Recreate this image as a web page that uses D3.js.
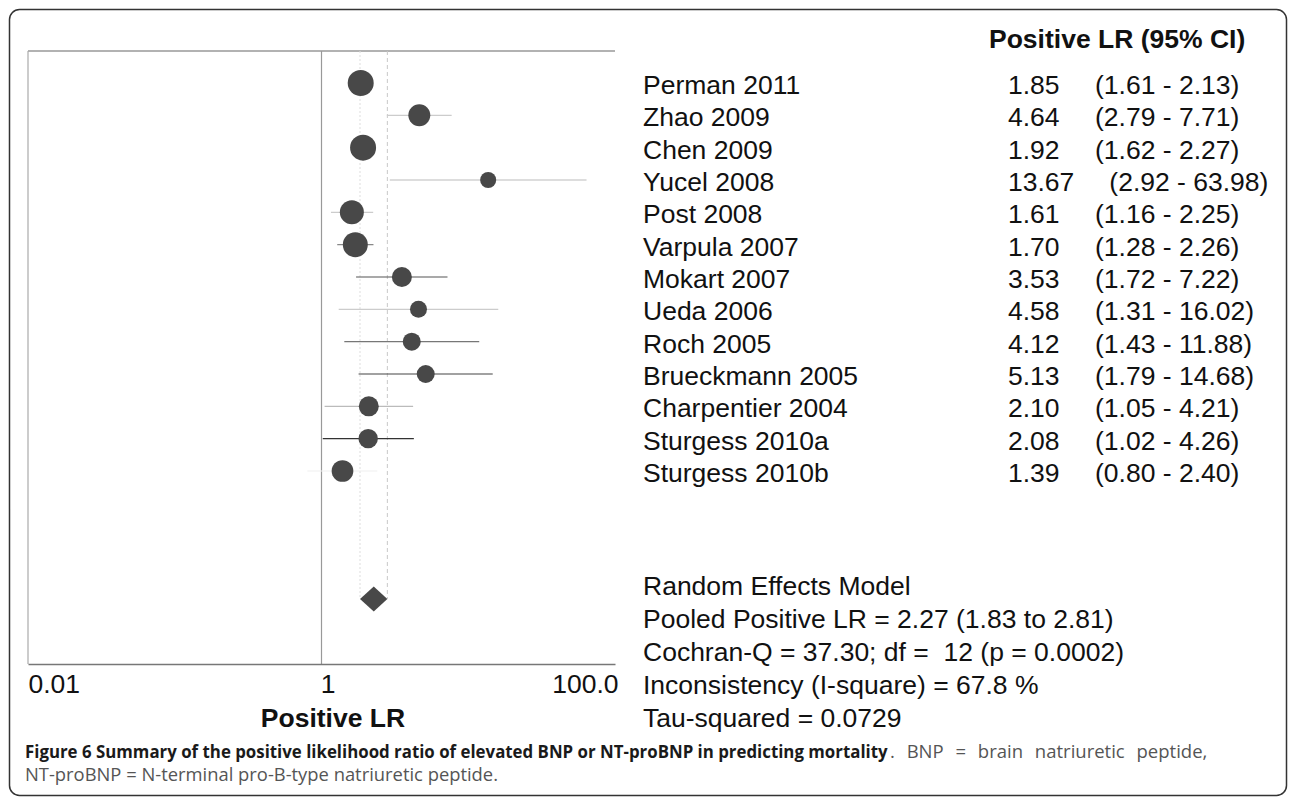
<!DOCTYPE html>
<html>
<head>
<meta charset="utf-8">
<script src="https://cdn.jsdelivr.net/npm/d3@7"></script>
<style>
  body { margin: 0; background: #fff; }
  text { font-family: "Liberation Sans", Arial, sans-serif; }
</style>
</head>
<body>
<div id="chart"></div>
<script>
// study data
const studies = ["Perman 2011", "Zhao 2009", "Chen 2009", "Yucel 2008", "Post 2008", "Varpula 2007",
    "Mokart 2007", "Ueda 2006", "Roch 2005", "Brueckmann 2005", "Charpentier 2004",
    "Sturgess 2010a", "Sturgess 2010b"];
const posLR  = [1.85, 4.64, 1.92, 13.67, 1.61, 1.70, 3.53, 4.58, 4.12, 5.13, 2.10, 2.08, 1.39];
const ciLow  = [1.61, 2.79, 1.62, 2.92, 1.16, 1.28, 1.72, 1.31, 1.43, 1.79, 1.05, 1.02, 0.80];
const ciHigh = [2.13, 7.71, 2.27, 63.98, 2.25, 2.26, 7.22, 16.02, 11.88, 14.68, 4.21, 4.26, 2.40];
// relative study weight (%)
const weights = [11.5, 8.2, 11.5, 4.4, 9.8, 10.6, 6.8, 4.9, 5.5, 5.5, 6.8, 6.4, 8.0];

const pooledLR = 2.27, pooledLow = 1.83, pooledHigh = 2.81;

const tickValues = [0.01, 1, 100];
const tickLabels = ["0.01", "1", "100.0"];

const summaryLines = [
    "Random Effects Model",
    "Pooled Positive LR = 2.27 (1.83 to 2.81)",
    "Cochran-Q = 37.30; df =  12 (p = 0.0002)",
    "Inconsistency (I-square) = 67.8 %",
    "Tau-squared = 0.0729"
];

// grey of each CI line as it shows in the figure
const ciShade = ["#333", "#ccc", "#666", "#bbb", "#ccc", "#888", "#555", "#ccc", "#777", "#444", "#bbb", "#333", "#f0f0f0"];

const width = 1293, height = 800;
const plot = {left: 28, right: 615, top: 51, bottom: 664};
const fontSize = 26.5;
const capFont = "'Open Sans', 'Noto Sans', sans-serif";

const svg = d3.select("#chart").append("svg")
    .attr("width", width)
    .attr("height", height);

// outer frame
svg.append("rect")
    .attr("x", 9.5).attr("y", 9.5)
    .attr("width", 1277).attr("height", 786)
    .attr("rx", 10)
    .attr("fill", "#fff")
    .attr("stroke", "#333")
    .attr("stroke-width", 1.5);

const x = d3.scaleLog()
    .domain([0.01, 100])
    .range([plot.left, plot.right]);

const y = d3.scalePoint()
    .domain(studies)
    .range([83, 471]);

const diamondY = 599;

const r = d3.scaleSqrt()
    .domain([0, d3.max(weights)])
    .range([0, 13]);

const data = studies.map((s, i) => ({
    name: s, lr: posLR[i], lo: ciLow[i], hi: ciHigh[i], w: weights[i], shade: ciShade[i]
}));

// plot box: top and left lines
svg.append("line")
    .attr("x1", plot.left).attr("x2", plot.right)
    .attr("y1", plot.top).attr("y2", plot.top)
    .attr("stroke", "#999").attr("stroke-width", 1.5);
svg.append("line")
    .attr("x1", plot.left).attr("x2", plot.left)
    .attr("y1", plot.top).attr("y2", plot.bottom)
    .attr("stroke", "#aaa").attr("stroke-width", 1.2);

// line of no effect
svg.append("line")
    .attr("x1", x(1)).attr("x2", x(1))
    .attr("y1", plot.top).attr("y2", plot.bottom)
    .attr("stroke", "#999").attr("stroke-width", 1.2);

// pooled CI guides
svg.append("line")
    .attr("x1", x(pooledLow)).attr("x2", x(pooledLow))
    .attr("y1", plot.top).attr("y2", diamondY)
    .attr("stroke", "#ddd").attr("stroke-dasharray", "2,2");
svg.append("line")
    .attr("x1", x(pooledHigh)).attr("x2", x(pooledHigh))
    .attr("y1", plot.top).attr("y2", diamondY)
    .attr("stroke", "#c8c8c8").attr("stroke-dasharray", "4,3");

// x axis
const axis = svg.append("g")
    .attr("transform", "translate(0," + plot.bottom + ")")
    .call(d3.axisBottom(x)
        .tickValues(tickValues)
        .tickFormat((d, i) => tickLabels[i])
        .tickSize(0)
        .tickPadding(8));
axis.select(".domain").attr("stroke", "#777").attr("stroke-width", 1.5);
axis.selectAll("text")
    .attr("font-size", fontSize)
    .attr("fill", "#111")
    .attr("dy", null)
    .attr("y", 29)
    .attr("text-anchor", (d, i) => i === 0 ? "start" : (i === 2 ? "end" : "middle"))
    .attr("x", (d, i) => i === 2 ? 3 : (i === 1 ? 6 : 0));

svg.append("text")
    .attr("x", 333)
    .attr("y", 727)
    .attr("text-anchor", "middle")
    .attr("font-weight", "bold")
    .attr("font-size", fontSize)
    .attr("fill", "#111")
    .text("Positive LR");

// CI lines
svg.selectAll(".ci")
    .data(data)
    .enter().append("line")
    .attr("class", "ci")
    .attr("x1", d => x(d.lo))
    .attr("x2", d => x(d.hi))
    .attr("y1", d => y(d.name))
    .attr("y2", d => y(d.name))
    .attr("stroke", d => d.shade)
    .attr("stroke-width", 1.2);

// study markers
svg.selectAll(".dot")
    .data(data)
    .enter().append("circle")
    .attr("class", "dot")
    .attr("cx", d => x(d.lr))
    .attr("cy", d => y(d.name))
    .attr("r", d => r(d.w))
    .attr("fill", "#484848");

// pooled diamond
const dh = 12.5;
svg.append("path")
    .attr("d", "M" + x(pooledLow) + "," + diamondY +
        "L" + x(pooledLR) + "," + (diamondY - dh) +
        "L" + x(pooledHigh) + "," + diamondY +
        "L" + x(pooledLR) + "," + (diamondY + dh) + "Z")
    .attr("fill", "#484848");

// right-hand table
svg.append("text")
    .attr("x", 989).attr("y", 48)
    .attr("font-weight", "bold")
    .attr("font-size", fontSize)
    .attr("fill", "#111")
    .text("Positive LR (95% CI)");

const rows = svg.selectAll(".row")
    .data(data)
    .enter().append("g")
    .attr("class", "row")
    .attr("transform", d => "translate(0," + (y(d.name) + 11) + ")");

rows.append("text")
    .attr("x", 643)
    .attr("font-size", fontSize)
    .attr("fill", "#111")
    .text(d => d.name);

rows.append("text")
    .attr("class", "val")
    .attr("x", 1008)
    .attr("font-size", fontSize)
    .attr("fill", "#111")
    .text(d => d.lr.toFixed(2));

rows.each(function(d) {
    const g = d3.select(this);
    const end = 1008 + g.select(".val").node().getComputedTextLength();
    g.append("text")
        .attr("x", Math.max(1095, end + 35))
        .attr("font-size", fontSize)
        .attr("fill", "#111")
        .text("(" + d.lo.toFixed(2) + " - " + d.hi.toFixed(2) + ")");
});

svg.selectAll(".summary")
    .data(summaryLines)
    .enter().append("text")
    .attr("class", "summary")
    .attr("x", 643)
    .attr("y", (d, i) => 595 + i * 33)
    .attr("font-size", fontSize)
    .attr("fill", "#111")
    .style("white-space", "pre")
    .text(d => d);

// caption: condensed bold title (squeezed with a scale), then regular text
const capBoldEnd = 888;
const capBold = svg.append("text")
    .style("font-family", capFont)
    .attr("font-size", 18.5)
    .attr("font-weight", "bold")
    .attr("fill", "#1a1a1a")
    .text("Figure 6 Summary of the positive likelihood ratio of elevated BNP or NT-proBNP in predicting mortality");
const boldLen = capBold.node().getComputedTextLength();
capBold.attr("transform", "translate(25,758) scale(" + ((capBoldEnd - 25) / boldLen) + ",1)");

const capRest = svg.append("text")
    .attr("x", capBoldEnd + 2).attr("y", 758)
    .style("font-family", capFont)
    .attr("font-size", 18.5)
    .attr("fill", "#555")
    .text(". BNP = brain natriuretic peptide,");
const restLen = capRest.node().getComputedTextLength();
const restGaps = capRest.text().split(" ").length - 1;
capRest.attr("word-spacing", Math.min(7, Math.max(0, (1270 - capBoldEnd - restLen) / restGaps)));

svg.append("text")
    .attr("x", 25).attr("y", 781)
    .style("font-family", capFont)
    .attr("font-size", 17.5)
    .attr("fill", "#555")
    .attr("textLength", 473)
    .attr("lengthAdjust", "spacingAndGlyphs")
    .text("NT-proBNP = N-terminal pro-B-type natriuretic peptide.");
</script>
</body>
</html>
